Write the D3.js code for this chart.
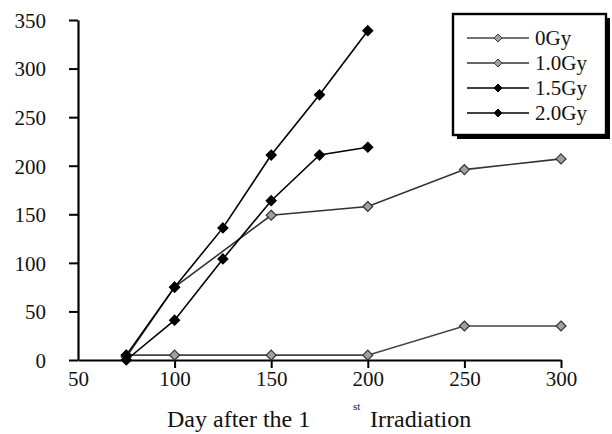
<!DOCTYPE html>
<html>
<head>
<meta charset="utf-8">
<script src="https://cdn.jsdelivr.net/npm/d3@7"></script>
<style>
  html, body { margin: 0; padding: 0; background: #fff; }
  svg { display: block; }
  svg text { font-family: 'Liberation Serif', 'DejaVu Serif', serif !important; fill: #111; }
</style>
</head>
<body>
<svg id="chart" width="612" height="434"></svg>
<script>
// Days after first irradiation
const days = [75, 100, 125, 150, 175, 200, 250, 300];

// Dose groups and their measured values (day, value)
const seriesNames = ["0Gy", "1.0Gy", "1.5Gy", "2.0Gy"];
const gy0  = [[75, 5], [100, 5], [150, 5], [200, 5], [250, 35], [300, 35]];
const gy10 = [[75, 3], [100, 75], [150, 149], [200, 158], [250, 196], [300, 207]];
const gy15 = [[75, 0], [100, 41], [125, 104], [150, 164], [175, 211], [200, 219]];
const gy20 = [[75, 5], [100, 75], [125, 136], [150, 211], [175, 273], [200, 339]];

const xTicks = [50, 100, 150, 200, 250, 300];
const yTicks = [0, 50, 100, 150, 200, 250, 300, 350];

const series = [
  { name: seriesNames[0], values: gy0,  line: "#444", fill: "#a0a0a0", stroke: "#333" },
  { name: seriesNames[1], values: gy10, line: "#333", fill: "#a0a0a0", stroke: "#333" },
  { name: seriesNames[2], values: gy15, line: "#000", fill: "#000",    stroke: "#000" },
  { name: seriesNames[3], values: gy20, line: "#000", fill: "#000",    stroke: "#000" }
];

const serif = "'Liberation Serif', 'DejaVu Serif', serif";
const svg = d3.select("#chart").attr("font-family", serif);

const x = d3.scaleLinear().domain([50, 300]).range([78, 561]);
const y = d3.scaleLinear().domain([0, 350]).range([360, 20]);

// Axes
const xAxis = d3.axisBottom(x).tickValues(xTicks).tickSize(8).tickSizeOuter(0).tickPadding(3);
const yAxis = d3.axisLeft(y).tickValues(yTicks).tickSize(9).tickSizeOuter(0).tickPadding(23);

const gx = svg.append("g").attr("transform", `translate(0,${y(0)})`).call(xAxis);
const gy = svg.append("g").attr("transform", `translate(${x(50)},0)`).call(yAxis);

[gx, gy].forEach(g => {
  g.attr("font-family", serif).attr("font-size", 21);
  g.select(".domain").attr("stroke", "#000").attr("stroke-width", 2.2);
  g.selectAll(".tick line").attr("stroke", "#000").attr("stroke-width", 2);
  g.selectAll(".tick text").attr("fill", "#111");
});
gy.selectAll(".tick text").attr("dy", "0.35em");
// 50 on the x axis sits at the corner, without its own tick
gx.selectAll(".tick").filter(d => d === 50).select("line").remove();

// Axis title with superscript
const title = svg.append("text")
  .attr("x", 167).attr("y", 427)
  .attr("font-size", 24);
title.append("tspan").text("Day after the 1");
title.append("tspan").attr("x", 353).attr("y", 410).attr("font-size", 11).text("st");
title.append("tspan").attr("x", 370).attr("y", 427).text("Irradiation");

// Lines
const line = d3.line().x(d => x(d[0])).y(d => y(d[1]));
// square diamond marker, 5px half-width
const diamond = "M0,-5L5,0L0,5L-5,0Z";

const gs = svg.append("g");
series.forEach(s => {
  gs.append("path")
    .datum(s.values)
    .attr("fill", "none")
    .attr("stroke", s.line)
    .attr("stroke-width", 1.6)
    .attr("d", line);
});
series.forEach(s => {
  gs.selectAll(null)
    .data(s.values)
    .join("path")
    .attr("d", diamond)
    .attr("transform", d => `translate(${x(d[0])},${y(d[1])})`)
    .attr("fill", s.fill)
    .attr("stroke", s.stroke)
    .attr("stroke-width", 1.2);
});

// Legend with drop shadow
const lg = svg.append("g");
lg.append("rect").attr("x", 457).attr("y", 18).attr("width", 153).attr("height", 121).attr("fill", "#000");
lg.append("rect").attr("x", 453).attr("y", 14).attr("width", 153).attr("height", 121)
  .attr("fill", "#fff").attr("stroke", "#000").attr("stroke-width", 2.4);

const rowY = d3.scalePoint().domain(seriesNames).range([38, 113]);
series.forEach(s => {
  const yy = rowY(s.name);
  lg.append("line").attr("x1", 467).attr("x2", 529).attr("y1", yy).attr("y2", yy)
    .attr("stroke", s.line).attr("stroke-width", 1.6);
  lg.append("path").attr("d", diamond).attr("transform", `translate(498,${yy}) scale(0.8)`)
    .attr("fill", s.fill).attr("stroke", s.stroke).attr("stroke-width", 1.2);
  lg.append("text").attr("x", 535).attr("y", yy).attr("dy", "0.35em")
    .attr("font-size", 21).text(s.name);
});
</script>
</body>
</html>
